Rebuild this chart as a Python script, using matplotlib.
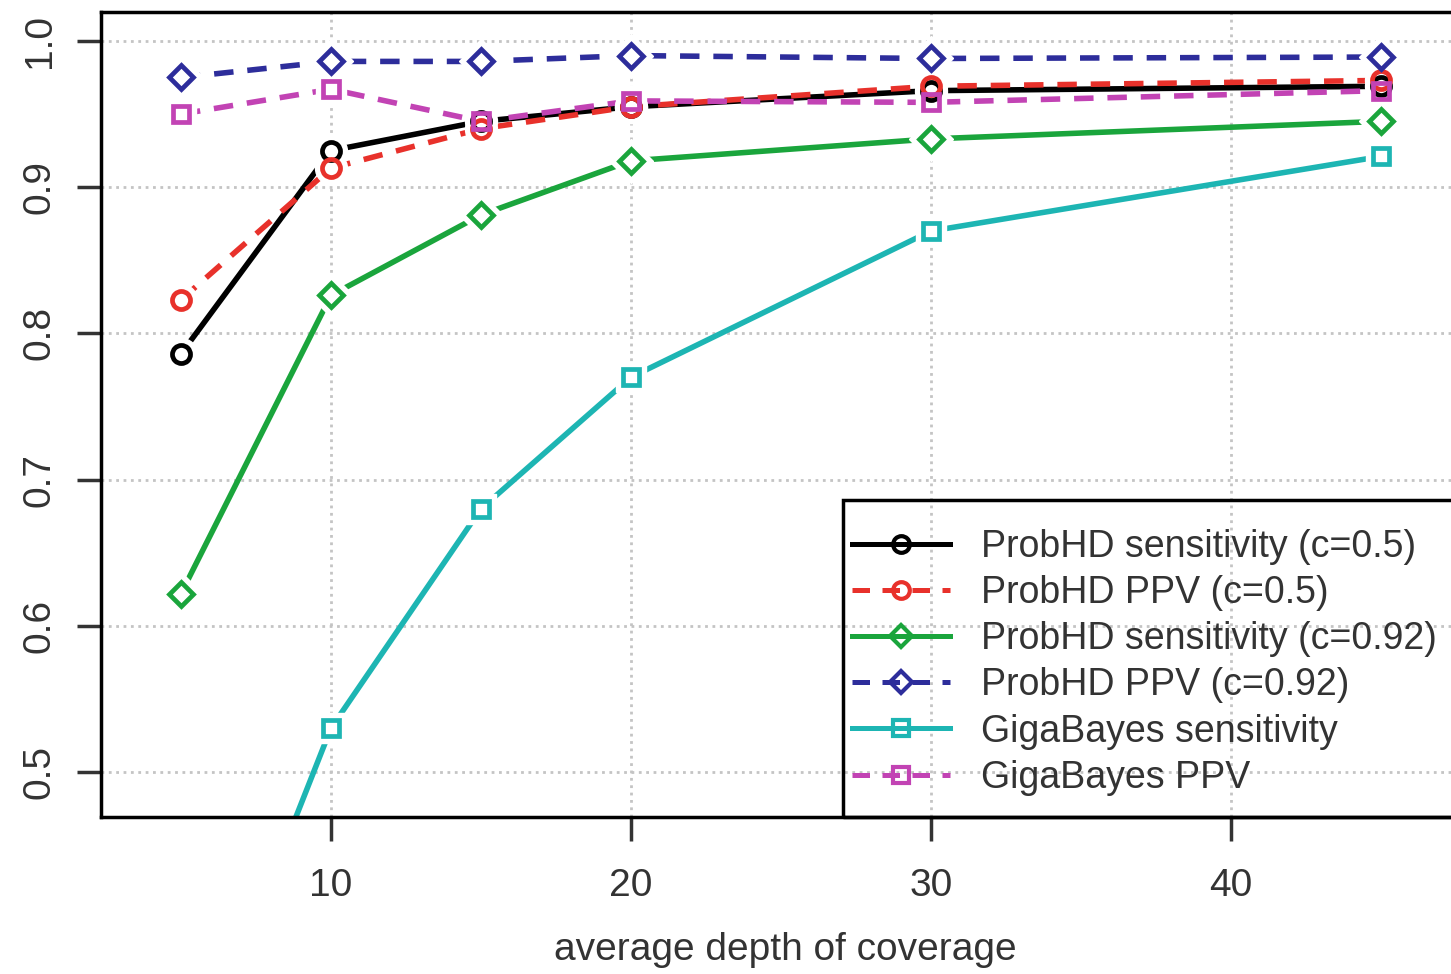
import numpy as np
import matplotlib.pyplot as plt
from matplotlib.patches import Rectangle

plt.rcParams['font.family'] = ['Liberation Sans', 'DejaVu Sans']

# average depth of coverage
depth = [5, 10, 15, 20, 30, 45]

sens_05 = [0.786, 0.925, 0.945, 0.955, 0.966, 0.969]
ppv_05 = [0.823, 0.913, 0.940, 0.955, 0.969, 0.973]
sens_092 = [0.622, 0.826, 0.881, 0.918, 0.933, 0.945]
ppv_092 = [0.975, 0.986, 0.986, 0.990, 0.988, 0.989]
giga_sens = [0.27, 0.530, 0.680, 0.770, 0.870, 0.921]
giga_ppv = [0.950, 0.967, 0.945, 0.959, 0.958, 0.966]

labels = ['ProbHD sensitivity (c=0.5)', 'ProbHD PPV (c=0.5)',
          'ProbHD sensitivity (c=0.92)', 'ProbHD PPV (c=0.92)',
          'GigaBayes sensitivity', 'GigaBayes PPV']
series = [sens_05, ppv_05, sens_092, ppv_092, giga_sens, giga_ppv]
colors = ['black', '#e8312b', '#1aa53c', '#2d2d9b', '#1db5b3', '#c243b4']
markers = ['o', 'o', 'D', 'D', 's', 's']
msizes = [13, 13, 12, 12, 12, 12]
styles = ['-', (0, (3.5, 2.5)), '-', (0, (3.5, 2.5)), '-', (0, (3.5, 2.5))]

fig = plt.figure(figsize=(14.51, 9.74), dpi=100)
ax = fig.add_axes([101/1451, 157/974, 1369/1451, 805/974])

for y, c, m, ms, ls, lab in zip(series, colors, markers, msizes, styles, labels):
    ax.plot(depth, y, color=c, lw=4, ls=ls, zorder=2)
    # white blob under the marker gives the R type="b" gap look
    ax.plot(depth, y, ls='none', marker=m, ms=ms + 10, mfc='white', mec='white', zorder=3)
    ax.plot(depth, y, ls='none', marker=m, ms=ms, mfc='none', mec=c, mew=3.4, zorder=4)
    # handle for the legend
    ax.plot([], [], color=c, lw=3.6, ls=ls, marker=m, ms=ms - 1, mfc='none', mec=c, mew=3, label=lab)

ax.set_xlim(2.333, 47.97)
ax.set_ylim(0.4692, 1.0198)
ax.set_xticks([10, 20, 30, 40])
ax.set_yticks([0.5, 0.6, 0.7, 0.8, 0.9, 1.0])
ax.set_yticklabels(['0.5', '0.6', '0.7', '0.8', '0.9', '1.0'], rotation=90, va='center')
ax.tick_params(labelsize=28, length=17, width=2.5, colors='#333333')
ax.tick_params(axis='x', pad=20)
ax.tick_params(axis='y', pad=14)
for sp in ax.spines.values():
    sp.set_linewidth(2.5)
ax.grid(True, ls=':', color='#c4c4c4', lw=2)
ax.set_axisbelow(True)

ax.set_xlabel('average depth of coverage', fontsize=28, color='#333333', labelpad=20)

# legend box drawn by hand so the padding matches
ax.add_patch(Rectangle(((843 - 101) / 1369, 0), 0.6, (817 - 500) / 805, transform=ax.transAxes,
                       fill=False, ec='black', lw=2.5, clip_on=False, zorder=5))
leg = ax.legend(loc='upper left', bbox_to_anchor=((852 - 101) / 1369, (817 - 529) / 805),
                borderaxespad=0, borderpad=0, frameon=False,
                fontsize=27, handlelength=2.6, handletextpad=0.85, labelspacing=0.27)
for t in leg.get_texts():
    t.set_color('#333333')

fig.savefig('out.png', dpi=100)
